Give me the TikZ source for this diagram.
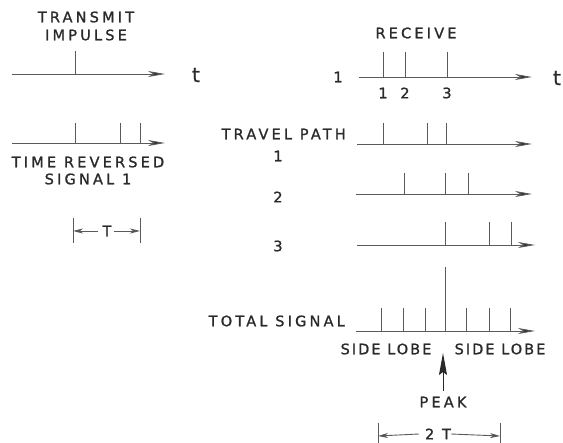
\documentclass[tikz,border=0pt]{standalone}
\usepackage{fontspec}
\setmainfont[LetterSpace=22,FakeBold=1.2]{DejaVu Sans}
\usetikzlibrary{arrows.meta}
\definecolor{linec}{HTML}{5A5A5A}
\definecolor{txtc}{HTML}{2A2A2A}
\tikzset{
 axis/.style={draw=linec, line width=0.9pt, -{Stealth[length=17pt,width=6pt,inset=5pt,fill=txtc]}},
 tick/.style={draw=linec, line width=0.9pt},
 lbl/.style={text=txtc, font=\fontsize{14.5}{17}\selectfont, inner sep=0pt},
 lobe/.style={lbl, font=\fontsize{14.5}{17}\selectfont\addfontfeature{LetterSpace=14}},
 tlbl/.style={text=txtc, font=\fontsize{20}{22}\selectfont, inner sep=0pt},
 dim/.style={draw=linec, line width=0.9pt, -{Stealth[length=10pt,width=5pt,inset=3pt,fill=txtc]}},
 peakarrow/.style={draw=txtc, line width=1pt, -{Stealth[length=22pt,width=8pt,inset=3pt]}},
}
\begin{document}
\begin{tikzpicture}[x=1pt,y=-1pt]
\useasboundingbox (0,0) rectangle (563,443);
% ---------------- left column
\node[lbl] (transmit) at (86,17) {TRANSMIT};
\node[lbl] (impulse) at (86,35) {IMPULSE};
\coordinate (a1s) at (12,74); \coordinate (a1e) at (165,74);
\draw[axis] (a1s) -- (a1e);
\draw[tick] (75,74) -- (75,51);
\node[tlbl] (t1) at (196,75) {t};

\coordinate (a2s) at (12,143); \coordinate (a2e) at (165,143);
\draw[axis] (a2s) -- (a2e);
\foreach \x in {75,120,140} \draw[tick] (\x,143) -- (\x,123);
\node[lbl] (trs) at (88,162) {TIME REVERSED};
\node[lbl] (sig1) at (88,179) {SIGNAL 1};

\coordinate (tL) at (73,231); \coordinate (tR) at (140,231);
\draw[tick] (73,218) -- (73,243);
\draw[tick] (140,218) -- (140,243);
\node[lbl] (T) at (107,231) {T};
\draw[dim] (T.west) ++(-4,0) -- (tL);
\draw[dim] (T.east) ++(2,0) -- (tR);

% ---------------- receive
\node[lbl] (receive) at (416,33) {RECEIVE};
\node[lbl] (r1) at (338,77) {1};
\coordinate (r1s) at (359,77); \coordinate (r1e) at (532,77);
\draw[axis] (r1s) -- (r1e);
\foreach \x in {383,405,447} \draw[tick] (\x,77) -- (\x,52);
\node[lbl] (n1) at (383,93) {1};
\node[lbl] (n2) at (405,93) {2};
\node[lbl] (n3) at (447,93) {3};
\node[tlbl] (t2) at (557,78) {t};

% ---------------- travel paths
\node[lbl,anchor=east] (travel) at (346,134) {TRAVEL PATH};
\node[lbl] (p1) at (278,156) {1};
\coordinate (p1s) at (357,144); \coordinate (p1e) at (532,144);
\draw[axis] (p1s) -- (p1e);
\foreach \x in {383,427,446} \draw[tick] (\x,144) -- (\x,123);

\node[lbl] (p2) at (278,197) {2};
\coordinate (p2s) at (356,194); \coordinate (p2e) at (532,194);
\draw[axis] (p2s) -- (p2e);
\foreach \x in {404,445,468} \draw[tick] (\x,194) -- (\x,173);

\node[lbl] (p3) at (278,246) {3};
\coordinate (p3s) at (357,245); \coordinate (p3e) at (535,245);
\draw[axis] (p3s) -- (p3e);
\foreach \x in {445,489,511} \draw[tick] (\x,245) -- (\x,222);

% ---------------- total signal
\node[lbl,anchor=east] (total) at (345,321) {TOTAL SIGNAL};
\coordinate (ts) at (356,331); \coordinate (te) at (535,331);
\draw[axis] (ts) -- (te);
\foreach \x in {381,403,425,466,489,510} \draw[tick] (\x,331) -- (\x,308);
\draw[tick] (445,331) -- (445,267);
\node[lbl,lobe] (sl1) at (386,349) {SIDE LOBE};
\node[lbl,lobe] (sl2) at (500,349) {SIDE LOBE};

\coordinate (pkTip) at (443,353);
\node[lbl] (peak) at (443,402) {PEAK};
\draw[peakarrow] (peak.north) ++(0,-6) -- (pkTip);

\coordinate (dL) at (378,436); \coordinate (dR) at (500,436);
\draw[tick] (378,423) -- (378,443);
\draw[tick] (500,423) -- (500,443);
\node[lbl] (twoT) at (438,434) {2 T};
\draw[dim] (twoT.west) ++(-6,0) -- (dL);
\draw[dim] (twoT.east) ++(0,0) -- (dR);
\end{tikzpicture}
\end{document}
